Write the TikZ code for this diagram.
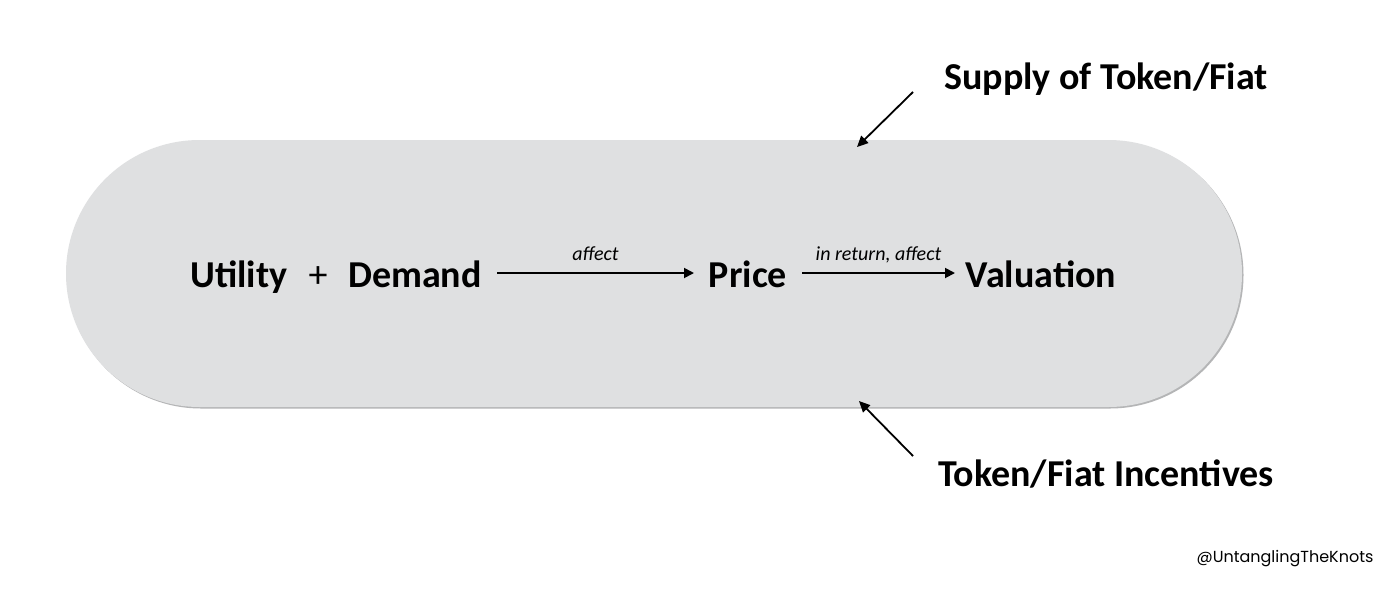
\documentclass[tikz,border=0pt]{standalone}
\usepackage{fontspec}
\setmainfont{Carlito}
\newfontfamily\wmfont{Poppins}
\usetikzlibrary{arrows.meta,shapes.misc}
\definecolor{pillgray}{HTML}{DFE0E1}
\definecolor{pilledge}{HTML}{B4B5B6}
\tikzset{
  bigtext/.style={font=\bfseries\fontsize{38}{42}\selectfont, anchor=base, inner sep=0pt},
  sidetext/.style={font=\bfseries\fontsize{38}{42}\selectfont, anchor=base, inner sep=0pt},
  smalltext/.style={font=\itshape\fontsize{20}{24}\selectfont, anchor=base, inner sep=0pt},
  arr/.style={line width=1.8pt, -{Triangle[length=10pt,width=10pt]}},
  pointer/.style={line width=1.8pt, -{Triangle[length=11pt,width=10pt]}}
}
\begin{document}
\begin{tikzpicture}[x=1pt,y=-1pt]
\useasboundingbox (0,0) rectangle (1400,598);
\fill[white] (0,0) rectangle (1400,598);
% shadow and pill
\node[rounded rectangle, fill=pilledge, minimum width=1176pt, minimum height=267pt, inner sep=0pt] (pillshadow) at (655.5,275) {};
\node[rounded rectangle, fill=pillgray, minimum width=1176pt, minimum height=267pt, inner sep=0pt] (pill) at (654,273.5) {};
% main row
\node[bigtext] (utility) at (239,287.5) {Utility};
\node[anchor=center, inner sep=0pt, font=\fontsize{38}{42}\selectfont] (plus) at (318,277) {+};
\node[bigtext] (demand) at (415,287.5) {Demand};
\node[bigtext] (price) at (748,287.5) {Price};
\node[bigtext] (valuation) at (1041,287.5) {Valuation};
\coordinate (a1s) at (497,273);
\coordinate (a1e) at (694,273);
\coordinate (a2s) at (802,273);
\coordinate (a2e) at (955,273);
\draw[arr] (a1s) -- (a1e) node[smalltext, midway, yshift=13pt] (affect) {affect};
\draw[arr] (a2s) -- (a2e) node[smalltext, midway, yshift=13pt] (inreturn) {in return, affect};
% side labels
\node[sidetext] (supply) at (1106,89) {Supply of Token/Fiat};
\node[sidetext] (incent) at (1106,486) {Token/Fiat Incentives};
\coordinate (p1s) at (913,92);
\coordinate (p1e) at (857,147);
\coordinate (p2s) at (913,456);
\coordinate (p2e) at (859,401);
\draw[pointer] (p1s) -- (p1e);
\draw[pointer] (p2s) -- (p2e);
% watermark
\node[font=\wmfont\fontsize{16}{19}\selectfont, anchor=base, inner sep=0pt] (wm) at (1285,562) {@UntanglingTheKnots};
\end{tikzpicture}
\end{document}
